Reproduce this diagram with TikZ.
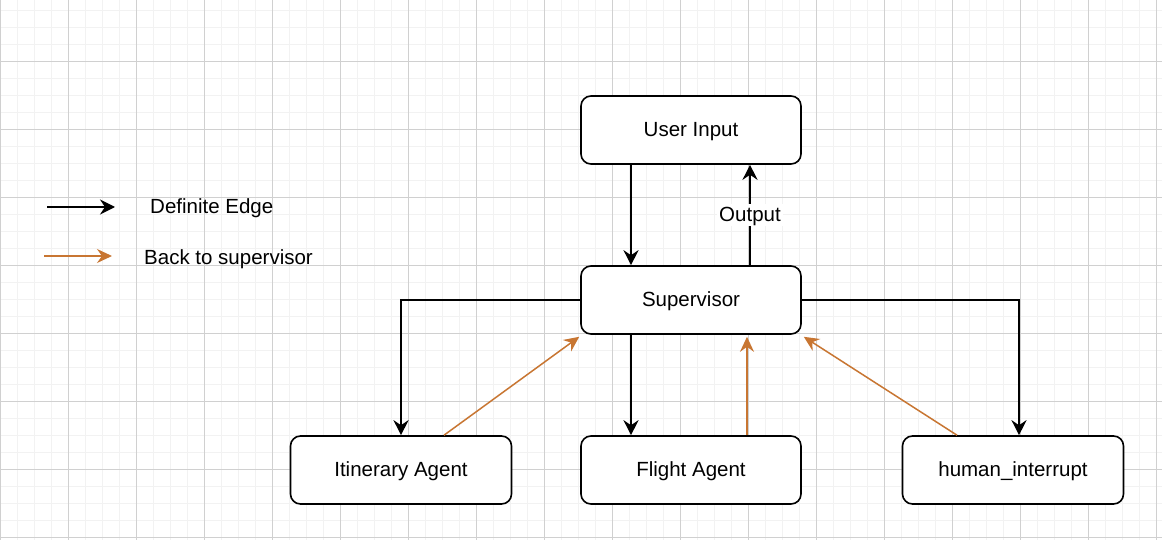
\documentclass[tikz,border=0pt]{standalone}
\usepackage{fontspec}
\setmainfont{Liberation Sans}
\usetikzlibrary{arrows.meta}
\definecolor{minorgrid}{RGB}{242,242,242}
\definecolor{majorgrid}{RGB}{208,208,208}
\definecolor{backorange}{RGB}{200,118,50}
\tikzset{
  txt/.style={font=\fontsize{20.5}{24}\selectfont, text height=16pt, text depth=2.6pt},
  box/.style={draw=black, line width=1.6pt, rounded corners=10pt, fill=white,
    minimum width=220pt, minimum height=68pt, inner sep=0pt, txt},
  defedge/.style={draw=black, line width=1.9pt,
    -{Stealth[length=15pt, width=15pt, inset=5pt]}},
  backedge/.style={draw=backorange, line width=1.5pt,
    -{Stealth[length=15pt, width=14pt, inset=5pt]}},
  lbl/.style={txt, inner sep=2pt},
  minorline/.style={draw=minorgrid, line width=1.4pt},
  majorline/.style={draw=majorgrid, line width=0.9pt}
}
\begin{document}
\begin{tikzpicture}[x=1pt, y=-1pt]
\useasboundingbox (0,0) rectangle (1162,540);
\fill[white] (0,0) rectangle (1162,540);
% grid
\foreach \i in {0,...,69} {
  \draw[minorline] (0.7+17*\i,0) -- (0.7+17*\i,540);
}
\foreach \j in {0,...,31} {
  \draw[minorline] (0,10.3+17*\j) -- (1162,10.3+17*\j);
}
\foreach \i in {0,...,17} {
  \draw[majorline] (0.7+68*\i,0) -- (0.7+68*\i,540);
}
\foreach \j in {0,...,8} {
  \draw[majorline] (0,-6.7+68*\j) -- (1162,-6.7+68*\j);
}
% nodes
\node[box] (user) at (691,130) {User Input};
\node[box] (sup) at (691,300) {Supervisor};
\node[box, minimum width=221pt] (itin) at (401,470) {Itinerary Agent};
\node[box] (flight) at (691,470) {Flight Agent};
\node[box, minimum width=221pt] (human) at (1013,470) {human\_interrupt};
% definite edges
\draw[defedge] (user.south -| 631,0) -- (sup.north -| 631,0);
\draw[defedge] (sup.north -| 750,0) -- node[lbl, fill=white, pos=0.5] {Output} (user.south -| 750,0);
\draw[defedge] (sup.west) -| (itin.north);
\draw[defedge] (sup.east) -| (human.north -| 1019,0);
\draw[defedge] (sup.south -| 631,0) -- (flight.north -| 631,0);
% back edges
\draw[backedge] (itin.north -| 444,0) -- ([xshift=-1pt,yshift=-2pt]sup.south west);
\draw[backedge] (flight.north -| 747,0) -- ([yshift=-2pt]sup.south -| 747,0);
\draw[backedge] (human.north -| 957,0) -- ([xshift=2pt,yshift=-2pt]sup.south east);
% legend
\coordinate (la1) at (47,207);
\coordinate (la2) at (115,207);
\draw[defedge, line width=1.4pt] (la1) -- (la2);
\node[lbl, anchor=west, inner sep=0pt] (ltxt1) at (150,207) {Definite Edge};
\coordinate (lb1) at (44,256);
\coordinate (lb2) at (112,256);
\draw[backedge, line width=1.4pt] (lb1) -- (lb2);
\node[lbl, anchor=west, inner sep=0pt] (ltxt2) at (144,258) {Back to supervisor};
\end{tikzpicture}
\end{document}
